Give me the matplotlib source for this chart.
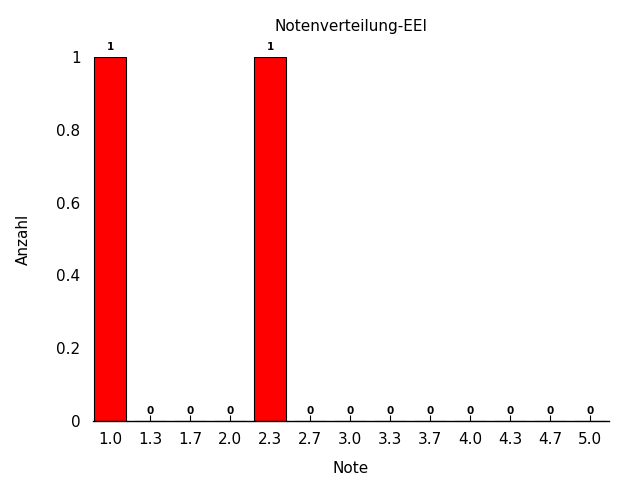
import matplotlib
matplotlib.use('Agg')
import matplotlib.pyplot as plt
from matplotlib.ticker import FuncFormatter

# Notenverteilung
noten = ['1.0', '1.3', '1.7', '2.0', '2.3', '2.7', '3.0', '3.3', '3.7', '4.0', '4.3', '4.7', '5.0']
anzahl = [1, 0, 0, 0, 1, 0, 0, 0, 0, 0, 0, 0, 0]

fig = plt.figure(figsize=(6.4, 4.8), dpi=100)
ax = fig.add_axes([93/640, 1 - 421/480, (609 - 93)/640, (421 - 57)/480])

pos = list(range(len(noten)))
ax.bar(pos, anzahl, width=0.8, color='#ff0000', edgecolor='black', linewidth=0.8, zorder=2)

for x, v in zip(pos, anzahl):
    ax.text(x, v + 0.013, str(v), ha='center', va='bottom', fontsize=7.5, fontweight='bold')

ax.set_xlim(-0.425, 12.475)
ax.set_ylim(0, 1)
ax.set_xticks(pos)
ax.set_xticklabels(noten)
ax.set_yticks([0, 0.2, 0.4, 0.6, 0.8, 1.0])
ax.yaxis.set_major_formatter(FuncFormatter(lambda v, p: '%g' % v))

for s in ['top', 'right', 'left']:
    ax.spines[s].set_visible(False)
ax.spines['bottom'].set_linewidth(1)
ax.spines['bottom'].set_zorder(3)

ax.tick_params(axis='x', direction='in', length=4, labelsize=11, pad=8, colors='black')
ax.tick_params(axis='y', length=0, labelsize=11, pad=9)

ax.set_xlabel('Note', fontsize=11, labelpad=10)
ax.set_ylabel('Anzahl', fontsize=11, labelpad=18)
ax.set_title('Notenverteilung-EEI', fontsize=11, pad=19)

fig.savefig('out.png', dpi=100)
